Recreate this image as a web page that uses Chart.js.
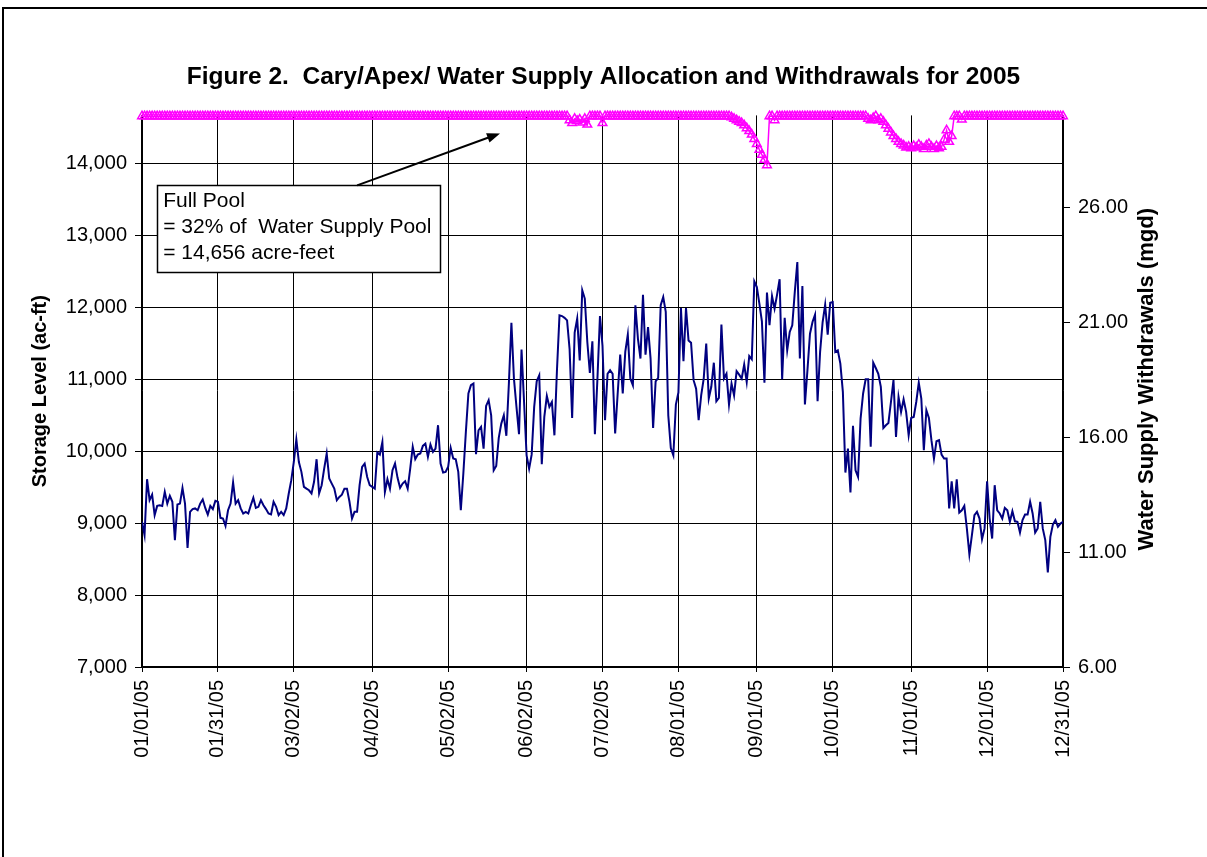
<!DOCTYPE html>
<html lang="en">
<head>
    <meta charset="UTF-8">
    <title>Cary/Apex Water Supply 2005</title>
    <script src="https://cdn.jsdelivr.net/npm/chart.js"></script>
    <style>
        body { margin: 0; background: #fff; }
        canvas { display: block; }
    </style>
</head>
<body>
    <canvas id="myChart" width="1207" height="857"></canvas>

    <script>
        // x axis: day of year 2005 (0 = Jan 1), labelled every ~month
        const tickDays = [0, 30, 60, 91, 121, 152, 182, 212, 243, 273, 304, 334, 364];
        const tickLabels = ['01/01/05', '01/31/05', '03/02/05', '04/02/05', '05/02/05', '06/02/05',
            '07/02/05', '08/01/05', '09/01/05', '10/01/05', '11/01/05', '12/01/05', '12/31/05'];
        const storageTicks = [7000, 8000, 9000, 10000, 11000, 12000, 13000, 14000];
        const withdrawalTicks = [6, 11, 16, 21, 26];

        // storage level, ac-ft (left axis), one value per day
        const storage = [
            14656, 14656, 14656, 14656, 14656, 14656, 14656, 14656, 14656, 14656, // 0
            14656, 14656, 14656, 14656, 14656, 14656, 14656, 14656, 14656, 14656,
            14656, 14656, 14656, 14656, 14656, 14656, 14656, 14656, 14656, 14656,
            14656, 14656, 14656, 14656, 14656, 14656, 14656, 14656, 14656, 14656,
            14656, 14656, 14656, 14656, 14656, 14656, 14656, 14656, 14656, 14656, // 40
            14656, 14656, 14656, 14656, 14656, 14656, 14656, 14656, 14656, 14656,
            14656, 14656, 14656, 14656, 14656, 14656, 14656, 14656, 14656, 14656,
            14656, 14656, 14656, 14656, 14656, 14656, 14656, 14656, 14656, 14656,
            14656, 14656, 14656, 14656, 14656, 14656, 14656, 14656, 14656, 14656, // 80
            14656, 14656, 14656, 14656, 14656, 14656, 14656, 14656, 14656, 14656,
            14656, 14656, 14656, 14656, 14656, 14656, 14656, 14656, 14656, 14656,
            14656, 14656, 14656, 14656, 14656, 14656, 14656, 14656, 14656, 14656,
            14656, 14656, 14656, 14656, 14656, 14656, 14656, 14656, 14656, 14656, // 120
            14656, 14656, 14656, 14656, 14656, 14656, 14656, 14656, 14656, 14656,
            14656, 14656, 14656, 14656, 14656, 14656, 14656, 14656, 14656, 14656,
            14656, 14656, 14656, 14656, 14656, 14656, 14656, 14656, 14656, 14656,
            14656, 14656, 14656, 14656, 14656, 14656, 14656, 14656, 14656, 14600, // 160
            14560, 14620, 14590, 14610, 14570, 14620, 14540, 14656, 14656, 14656,
            14656, 14656, 14560, 14656, 14656, 14656, 14656, 14656, 14656, 14656,
            14656, 14656, 14656, 14656, 14656, 14656, 14656, 14656, 14656, 14656,
            14656, 14656, 14656, 14656, 14656, 14656, 14656, 14656, 14656, 14656, // 200
            14656, 14656, 14656, 14656, 14656, 14656, 14656, 14656, 14656, 14656,
            14656, 14656, 14656, 14656, 14656, 14656, 14656, 14656, 14656, 14656,
            14656, 14656, 14656, 14640, 14620, 14600, 14580, 14560, 14530, 14490,
            14450, 14400, 14340, 14270, 14190, 14120, 14050, 13975, 14656, 14656, // 240
            14600, 14656, 14656, 14656, 14656, 14656, 14656, 14656, 14656, 14656,
            14656, 14656, 14656, 14656, 14656, 14656, 14656, 14656, 14656, 14656,
            14656, 14656, 14656, 14656, 14656, 14656, 14656, 14656, 14656, 14656,
            14656, 14656, 14656, 14656, 14656, 14656, 14656, 14620, 14600, 14630, // 280
            14656, 14600, 14620, 14580, 14530, 14480, 14430, 14380, 14340, 14300,
            14270, 14250, 14220, 14230, 14210, 14240, 14220, 14260, 14230, 14200,
            14250, 14270, 14230, 14200, 14240, 14210, 14230, 14330, 14460, 14300,
            14380, 14656, 14656, 14656, 14610, 14656, 14656, 14656, 14656, 14656, // 320
            14656, 14656, 14656, 14656, 14656, 14656, 14656, 14656, 14656, 14656,
            14656, 14656, 14656, 14656, 14656, 14656, 14656, 14656, 14656, 14656,
            14656, 14656, 14656, 14656, 14656, 14656, 14656, 14656, 14656, 14656,
            14656, 14656, 14656, 14656, 14656                                      // 360
        ];

        // water supply withdrawals, mgd (right axis), one value per day
        const withdrawals = [
            12.32, 11.74, 14.17, 13.26, 13.50, 12.61, 13.01, 13.04, 13.01, 13.62, // 0
            13.11, 13.45, 13.19, 11.52, 13.07, 13.11, 13.79, 13.11, 11.18, 12.75,
            12.87, 12.90, 12.82, 13.11, 13.29, 12.92, 12.63, 13.01, 12.87, 13.23,
            13.19, 12.49, 12.46, 12.14, 12.82, 13.11, 14.03, 13.11, 13.26, 12.90,
            12.68, 12.75, 12.68, 13.04, 13.36, 12.92,
            12.97, 13.26, 13.04, 12.87, 12.68, 12.64, 13.19, 12.97, 12.61, 12.75, // 46
            12.61, 12.90, 13.55, 14.13, 14.92, 15.90, 14.92, 14.49, 13.84, 13.76,
            13.69, 13.55, 14.06, 15.04, 13.55, 13.91, 14.63, 15.29, 14.20, 13.98,
            13.76, 13.26, 13.40, 13.50, 13.76, 13.76, 13.19, 12.46, 12.75, 12.75,
            13.91, 14.71, 14.85, 14.27, 13.91,
            13.84, 13.76, 15.33, 15.24, 15.79, 13.62, 14.17, 13.76, 14.56, 14.85, // 91
            14.23, 13.79, 13.98, 14.08, 13.76, 14.63, 15.58, 15.04, 15.24, 15.29,
            15.62, 15.72, 15.14, 15.68, 15.36, 15.50, 16.52, 14.85, 14.46, 14.49,
            14.71, 15.53, 15.07, 15.04, 14.49, 12.82, 14.42, 16.23, 17.90, 18.26,
            18.33, 15.26, 16.30, 16.45, 15.50, 17.36,
            17.61, 16.95, 14.56, 14.75, 15.97, 16.59, 16.95, 16.06, 18.33, 20.98, // 137
            18.55, 17.32, 16.13, 19.81, 17.53, 15.21, 14.63, 15.24, 17.32, 18.43,
            18.69, 14.82, 16.88, 17.79, 17.32, 17.53, 16.08, 18.91, 21.30, 21.27,
            21.19, 21.08, 19.82, 16.84, 20.55, 21.16, 19.34, 22.39, 22.03, 20.14,
            18.79, 20.17, 16.13, 18.55, 21.27, 19.98,
            16.74, 18.76, 18.91, 18.76, 16.16, 17.90, 19.59, 17.90, 19.71, 20.46, // 183
            18.55, 18.26, 21.74, 20.29, 19.42, 22.20, 19.59, 20.79, 19.42, 16.40,
            18.43, 18.58, 21.74, 22.10, 21.45, 16.95, 15.53, 15.21, 17.42, 17.94,
            21.62, 19.30, 21.62, 20.21, 20.11, 18.48, 18.11, 16.74, 17.82, 18.55,
            20.07, 17.68, 18.19, 19.24, 17.56,
            17.71, 20.90, 18.55, 18.76, 17.42, 18.33, 17.82, 18.87, 18.72, 18.55, // 228
            19.16, 18.40, 19.53, 19.39, 22.78, 22.53, 21.81, 21.04, 18.37, 22.29,
            20.87, 22.14, 21.59, 22.20, 22.87, 18.52, 21.19, 19.78, 20.58, 20.87,
            22.32, 23.62, 19.42, 22.58, 17.42, 18.91, 20.50, 21.01, 21.33, 17.56,
            19.71, 21.01, 21.76, 20.46, 21.85, 21.88,
            19.71, 19.78, 19.20, 17.97, 14.46, 15.50, 13.59, 16.49, 14.56, 14.27, // 274
            16.81, 17.90, 18.52, 18.52, 15.58, 19.24, 19.01, 18.76, 18.19, 16.40,
            16.52, 16.62, 17.53, 18.48, 16.01, 17.75, 17.10, 17.65, 17.10, 16.08,
            16.84, 16.88, 17.53, 18.37, 17.68, 15.43, 17.17, 16.84, 15.87, 15.07,
            15.82, 15.87, 15.24, 15.07, 15.07,
            12.90, 14.08, 12.90, 14.17, 12.72, 12.82, 13.01, 12.03, 10.90, 11.74, // 319
            12.61, 12.75, 12.46, 11.56, 12.03, 14.08, 12.46, 11.59, 13.91, 12.82,
            12.68, 12.46, 12.92, 12.82, 12.32, 12.78, 12.34, 12.32, 11.85, 12.39,
            12.63, 12.63, 13.19, 12.68, 11.85, 12.03, 13.19, 12.03, 11.52, 10.11,
            11.66, 12.20, 12.39, 12.10, 12.24, 12.32
        ];

        // text box + arrow, placed in data units (day, ac-ft)
        const noteLines = ['Full Pool', '= 32% of  Water Supply Pool', '= 14,656 acre-feet'];
        const noteBox = {day0: 6, day1: 118, top: 13694, bottom: 12486};
        const noteArrow = {fromDay: 85, fromVal: 13694, toDay: 141.5, toVal: 14417};

        const FONT = "'Liberation Sans', Arial, sans-serif";

        const extras = {
            id: 'extras',
            beforeDraw(chart) {
                const ctx = chart.ctx;
                ctx.save();
                ctx.fillStyle = '#fff';
                ctx.fillRect(0, 0, chart.width, chart.height);
                ctx.strokeStyle = '#000';
                ctx.lineWidth = 2;
                ctx.strokeRect(3, 8, chart.width + 10, chart.height + 10);
                ctx.restore();
            },
            afterDraw(chart) {
                const ctx = chart.ctx;
                const xs = chart.scales.x, ys = chart.scales.y;
                const area = chart.chartArea;
                ctx.save();

                // right axis title, reads bottom to top
                ctx.fillStyle = '#000';
                ctx.font = 'bold 22px ' + FONT;
                ctx.textAlign = 'center';
                ctx.textBaseline = 'middle';
                ctx.translate(1147, (area.top + area.bottom) / 2 - 12);
                ctx.rotate(-Math.PI / 2);
                ctx.fillText('Water Supply Withdrawals (mgd)', 0, 0);
                ctx.setTransform(1, 0, 0, 1, 0, 0);

                // note box
                const bx0 = xs.getPixelForValue(noteBox.day0), bx1 = xs.getPixelForValue(noteBox.day1);
                const by0 = ys.getPixelForValue(noteBox.top), by1 = ys.getPixelForValue(noteBox.bottom);
                ctx.fillStyle = '#fff';
                ctx.fillRect(bx0, by0, bx1 - bx0, by1 - by0);
                ctx.strokeStyle = '#000';
                ctx.lineWidth = 1.5;
                ctx.strokeRect(Math.round(bx0) + 0.5, Math.round(by0) + 0.5, Math.round(bx1 - bx0), Math.round(by1 - by0));
                ctx.fillStyle = '#000';
                ctx.font = '21px ' + FONT;
                ctx.textAlign = 'left';
                ctx.textBaseline = 'alphabetic';
                noteLines.forEach((t, i) => ctx.fillText(t, bx0 + 6, by0 + 22 + i * 26));

                // arrow
                const ax0 = xs.getPixelForValue(noteArrow.fromDay), ay0 = ys.getPixelForValue(noteArrow.fromVal);
                const ax1 = xs.getPixelForValue(noteArrow.toDay), ay1 = ys.getPixelForValue(noteArrow.toVal);
                const ang = Math.atan2(ay1 - ay0, ax1 - ax0);
                ctx.lineWidth = 2;
                ctx.beginPath();
                ctx.moveTo(ax0, ay0);
                ctx.lineTo(ax1 - 10 * Math.cos(ang), ay1 - 10 * Math.sin(ang));
                ctx.stroke();
                ctx.beginPath();
                ctx.moveTo(ax1, ay1);
                ctx.lineTo(ax1 - 13 * Math.cos(ang) + 5 * Math.sin(ang), ay1 - 13 * Math.sin(ang) - 5 * Math.cos(ang));
                ctx.lineTo(ax1 - 13 * Math.cos(ang) - 5 * Math.sin(ang), ay1 - 13 * Math.sin(ang) + 5 * Math.cos(ang));
                ctx.closePath();
                ctx.fill();
                ctx.restore();
            }
        };

        const tickFont = {family: FONT, size: 20};

        const config = {
            type: 'line',
            data: {
                datasets: [{
                    label: 'Storage Level',
                    data: storage.map((v, i) => ({x: i, y: v})),
                    yAxisID: 'y',
                    borderColor: '#FF00FF',
                    borderWidth: 1.5,
                    pointStyle: 'triangle',
                    pointRadius: 5,
                    pointBorderWidth: 1.5,
                    pointBorderColor: '#FF00FF',
                    pointBackgroundColor: 'rgba(255,255,255,0)',
                    clip: false,
                    order: 1
                }, {
                    label: 'Withdrawals',
                    data: withdrawals.map((v, i) => ({x: i, y: v})),
                    yAxisID: 'y2',
                    borderColor: '#000080',
                    borderWidth: 2,
                    pointRadius: 0,
                    tension: 0,
                    order: 2
                }]
            },
            options: {
                responsive: false,
                animation: false,
                layout: {padding: {top: 51, left: 0, right: 0, bottom: 0}},
                plugins: {
                    legend: {display: false},
                    tooltip: {enabled: false},
                    title: {
                        display: true,
                        text: 'Figure 2.  Cary/Apex/ Water Supply Allocation and Withdrawals for 2005',
                        color: '#000',
                        font: {family: FONT, size: 24.5, weight: 'bold'},
                        padding: {top: 12, bottom: 23}
                    }
                },
                scales: {
                    x: {
                        type: 'linear',
                        min: 0,
                        max: 364,
                        afterBuildTicks: s => { s.ticks = tickDays.map(v => ({value: v})); },
                        afterFit: s => { s.height = 190; },
                        ticks: {
                            callback: (v, i) => tickLabels[i],
                            autoSkip: false,
                            minRotation: 90,
                            maxRotation: 90,
                            color: '#000',
                            font: tickFont,
                            padding: 8
                        },
                        grid: {color: '#000', lineWidth: 1, tickLength: 5},
                        border: {color: '#000', width: 1.5}
                    },
                    y: {
                        position: 'left',
                        min: 7000,
                        max: 14667,
                        afterBuildTicks: s => { s.ticks = storageTicks.map(v => ({value: v})); },
                        afterFit: s => { s.width = 142; },
                        ticks: {
                            callback: v => v.toLocaleString('en-US'),
                            color: '#000',
                            font: tickFont,
                            padding: 8
                        },
                        grid: {color: '#000', lineWidth: 1, tickLength: 7},
                        border: {color: '#000', width: 1.5},
                        title: {
                            display: true,
                            text: 'Storage Level (ac-ft)',
                            color: '#000',
                            font: {family: FONT, size: 20, weight: 'bold'},
                            padding: {top: 28, bottom: 0}
                        }
                    },
                    y2: {
                        position: 'right',
                        min: 6,
                        max: 30,
                        afterBuildTicks: s => { s.ticks = withdrawalTicks.map(v => ({value: v})); },
                        afterFit: s => { s.width = 144; },
                        ticks: {
                            callback: v => v.toFixed(2),
                            color: '#000',
                            font: tickFont,
                            padding: 8
                        },
                        grid: {drawOnChartArea: false, color: '#000', tickLength: 7},
                        border: {color: '#000', width: 1.5}
                    }
                }
            },
            plugins: [extras]
        };

        const myChart = new Chart(document.getElementById('myChart'), config);
    </script>
</body>
</html>
